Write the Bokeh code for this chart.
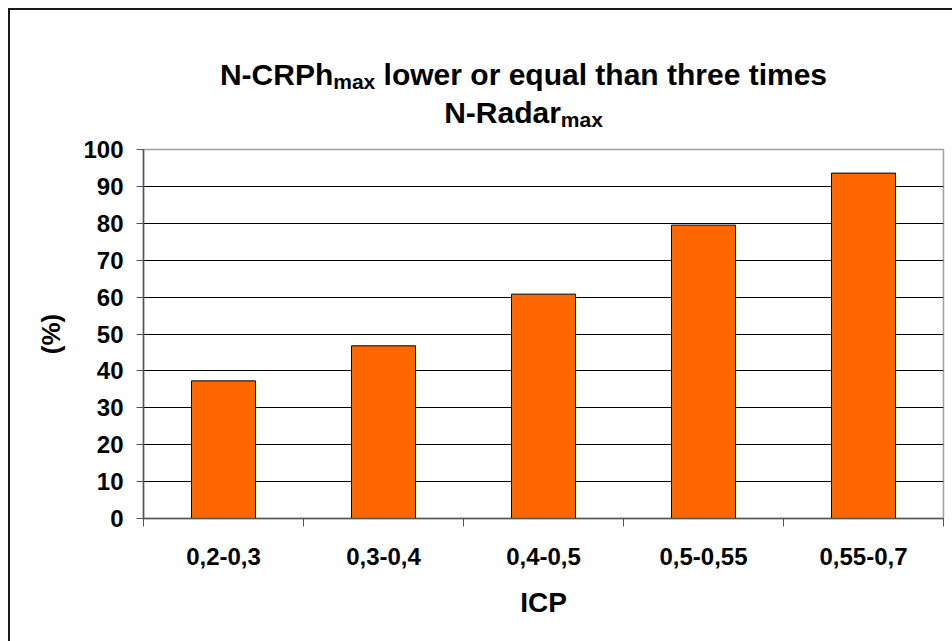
from bokeh.plotting import figure
from bokeh.models import Range1d, FixedTicker, Div
from bokeh.layouts import column
from bokeh.embed import file_html
from bokeh.resources import INLINE

# ---- data ----
categories = ["0,2-0,3", "0,3-0,4", "0,4-0,5", "0,5-0,55", "0,55-0,7"]
values = [37.3, 46.8, 60.8, 79.5, 93.6]
y_ticks = [0, 10, 20, 30, 40, 50, 60, 70, 80, 90, 100]
grid_ticks = [10, 20, 30, 40, 50, 60, 70, 80, 90]
title_parts = [("N-CRPh", "max", " lower or equal than three times"), ("N-Radar", "max", "")]
x_title = "ICP"
y_title = "(%)"

centers = [i + 0.5 for i in range(len(categories))]
bounds = list(range(len(categories) + 1))

FONT = "Liberation Sans"
W = 942
TITLE_H = 125
FIG_H = 631 - TITLE_H

# ---- title (HTML text with subscripts) ----
lines = []
for main, sub, rest in title_parts:
    lines.append(
        f'{main}<span style="font-size:21px;line-height:0;position:relative;top:4px;">{sub}</span>{rest}')
title_html = (
    f'<div style="width:{W}px;height:{TITLE_H}px;padding:46px 0 0 85px;box-sizing:border-box;'
    f'font-family:\'{FONT}\';font-weight:bold;font-size:30px;line-height:38px;'
    f'text-align:center;color:black;white-space:nowrap;">'
    + "<br>".join(lines) + "</div>")
title_div = Div(text=title_html, width=W, height=TITLE_H,
                styles={"background-color": "white", "margin": "0", "padding": "0"})

# ---- figure ----
p = figure(width=W, height=FIG_H, x_range=Range1d(0, len(categories)), y_range=Range1d(0, 100),
           output_backend="svg", toolbar_location=None,
           min_border_left=133, min_border_right=9, min_border_top=14, min_border_bottom=123)
p.background_fill_color = "white"
p.border_fill_color = "white"
p.outline_line_color = "#a0a0a0"
p.outline_line_width = 1.5

p.vbar(x=centers, top=values, width=0.4, bottom=0,
       fill_color="#FF6600", line_color="black", line_width=1)

# x axis
xa = p.xaxis[0]
xa.ticker = FixedTicker(ticks=centers, minor_ticks=bounds)
xa.major_label_overrides = {c: lab for c, lab in zip(centers, categories)}
xa.major_tick_out = 0
xa.major_tick_in = 0
xa.minor_tick_out = 8
xa.minor_tick_in = 0
xa.minor_tick_line_color = "#555555"
xa.axis_line_color = "#555555"
xa.axis_line_width = 1.5
xa.major_label_text_font = FONT
xa.major_label_text_font_style = "bold"
xa.major_label_text_font_size = "24px"
xa.major_label_text_color = "black"
xa.major_label_standoff = 21
xa.axis_label = x_title
xa.axis_label_text_font = FONT
xa.axis_label_text_font_style = "bold"
xa.axis_label_text_font_size = "28px"
xa.axis_label_text_color = "black"
xa.axis_label_standoff = 19

# y axis
ya = p.yaxis[0]
ya.ticker = FixedTicker(ticks=y_ticks)
ya.minor_tick_line_color = None
ya.major_tick_out = 7
ya.major_tick_in = 0
ya.major_tick_line_color = "#555555"
ya.axis_line_color = "#555555"
ya.axis_line_width = 1.5
ya.major_label_text_font = FONT
ya.major_label_text_font_style = "bold"
ya.major_label_text_font_size = "24px"
ya.major_label_text_color = "black"
ya.major_label_standoff = 13
ya.axis_label = y_title
ya.axis_label_text_font = FONT
ya.axis_label_text_font_style = "bold"
ya.axis_label_text_font_size = "26px"
ya.axis_label_text_color = "black"
ya.axis_label_standoff = 14

p.xgrid.grid_line_color = None
p.ygrid.ticker = FixedTicker(ticks=grid_ticks)
p.ygrid.grid_line_color = "black"
p.ygrid.grid_line_width = 1.2

layout = column(title_div, p, spacing=0,
                styles={"margin-left": "8px", "margin-top": "8px",
                        "border-left": "2px solid #1a1a1a", "border-top": "2px solid #1a1a1a",
                        "background-color": "white"})

open("out.html", "w").write(file_html(layout, INLINE))
